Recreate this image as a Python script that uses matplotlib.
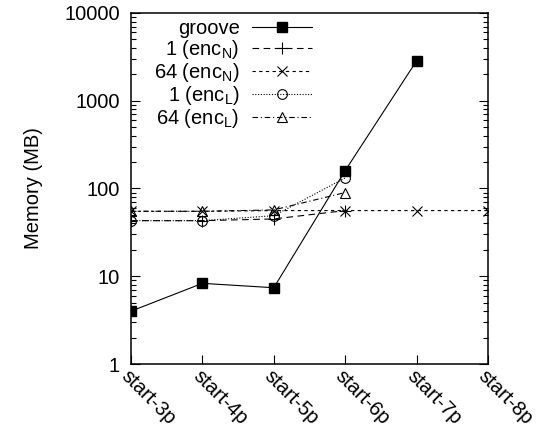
import matplotlib
matplotlib.use("Agg")
import matplotlib.pyplot as plt
import matplotlib.transforms as mtransforms
from matplotlib.ticker import LogLocator, NullFormatter, FuncFormatter

plt.rcParams['font.family'] = ['Liberation Sans', 'DejaVu Sans']
plt.rcParams['mathtext.default'] = 'regular'

categories = ["start-3p", "start-4p", "start-5p", "start-6p", "start-7p", "start-8p"]

groove = [4.0, 8.3, 7.4, 160, 2850]
enc_n_1 = [43, 43, 45, 56]
enc_n_64 = [55, 55, 56, 56, 56, 56]
enc_l_1 = [43, 43, 49, 132]
enc_l_64 = [55, 55, 57, 90]

labels = ["groove", "1 (enc$_{N}$)", "64 (enc$_{N}$)", "1 (enc$_{L}$)", "64 (enc$_{L}$)"]

FS = 14.5

fig = plt.figure(figsize=(5.45, 4.36), dpi=100)
ax = fig.add_axes([131/545, 1-364/436, (488-131)/545, (364-13)/436])

lw = 0.8
ax.plot(range(len(groove)), groove, color='black', lw=lw, ls='-', marker='s', ms=7.5,
        mfc='black', mec='black', label=labels[0])
ax.plot(range(len(enc_n_1)), enc_n_1, color='black', lw=lw, ls=(0, (6, 4)), marker='+', ms=8,
        mew=0.8, label=labels[1])
ax.plot(range(len(enc_n_64)), enc_n_64, color='black', lw=lw, ls=(0, (3, 3)), marker='x', ms=7,
        mew=0.8, label=labels[2])
ax.plot(range(len(enc_l_1)), enc_l_1, color='black', lw=lw, ls=(0, (1, 1.5)), marker='o', ms=7,
        mfc='none', mew=0.8, label=labels[3])
ax.plot(range(len(enc_l_64)), enc_l_64, color='black', lw=lw, ls=(0, (5, 2.5, 1, 2.5)), marker='^', ms=7,
        mfc='none', mew=0.8, label=labels[4])

ax.set_yscale('log')
ax.set_ylim(1, 10000)
ax.set_xlim(0, len(categories) - 1)

ax.yaxis.set_major_locator(LogLocator(base=10, numticks=10))
ax.yaxis.set_minor_locator(LogLocator(base=10, subs=range(2, 10), numticks=50))
ax.yaxis.set_minor_formatter(NullFormatter())
ax.yaxis.set_major_formatter(FuncFormatter(lambda v, p: f"{int(round(v))}"))

ax.set_xticks(range(len(categories)))
ax.set_xticklabels(categories, rotation=-45, ha='left', va='top', rotation_mode='anchor')
offset = mtransforms.ScaledTranslation(8/100, -2/100, fig.dpi_scale_trans)
for lab in ax.get_xticklabels():
    lab.set_transform(lab.get_transform() + offset)

ax.tick_params(axis='y', which='major', direction='in', length=6.5, width=0.8, right=True,
               labelsize=FS, pad=8)
ax.tick_params(axis='y', which='minor', direction='in', length=3.5, width=0.8, right=True)
ax.tick_params(axis='x', which='major', direction='in', length=6.5, width=0.8, top=False,
               labelsize=FS, pad=2)
for s in ax.spines.values():
    s.set_linewidth(1.1)

ax.set_ylabel("Memory (MB)", fontsize=FS, labelpad=15)

leg = ax.legend(loc='upper right', bbox_to_anchor=(312/545, 1-19/436), bbox_transform=fig.transFigure,
                frameon=False, markerfirst=False, fontsize=FS, handlelength=3.0, handletextpad=0.6,
                labelspacing=0.0, borderpad=0, borderaxespad=0)

fig.savefig("out.png", dpi=100)
